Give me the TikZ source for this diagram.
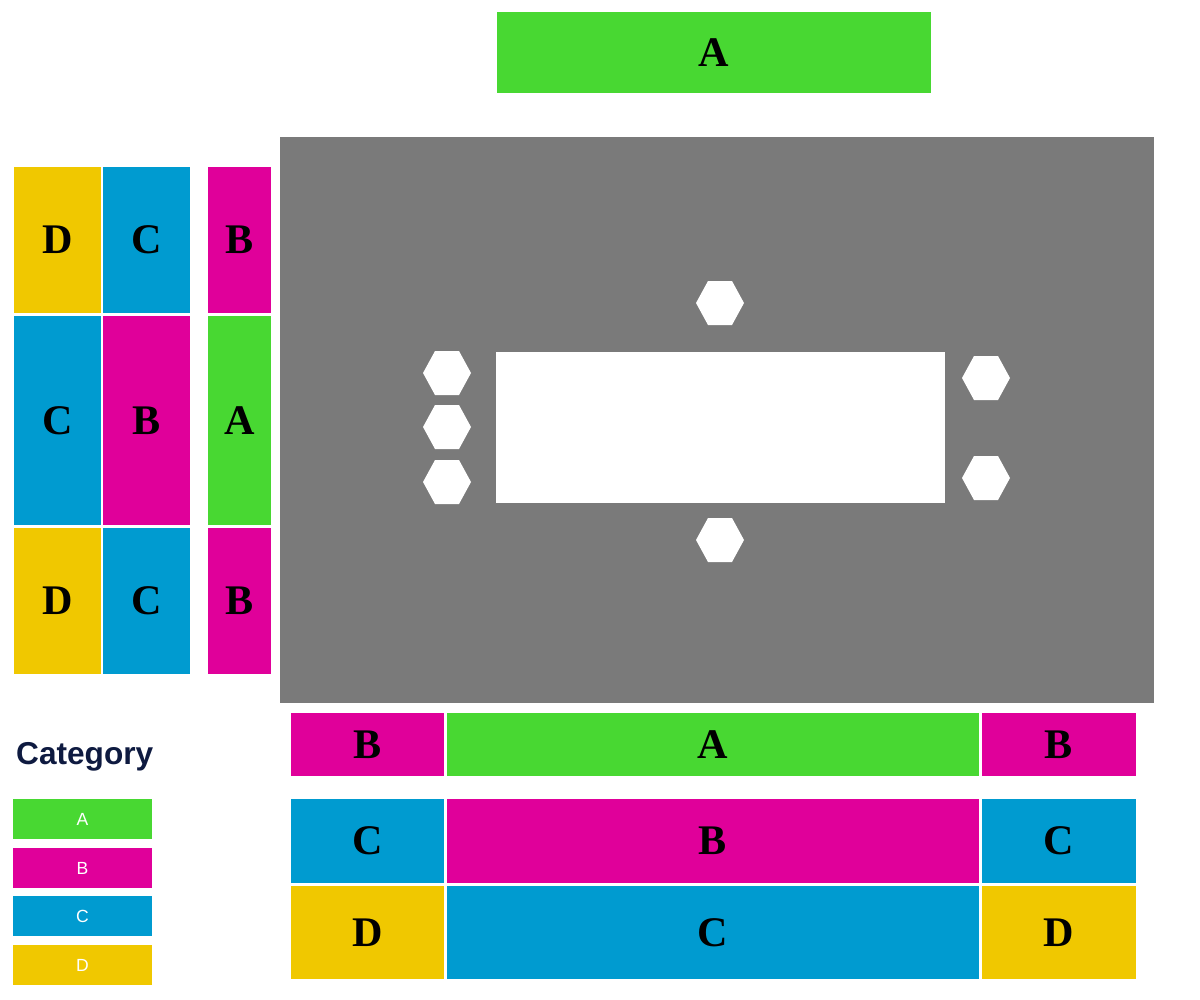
\documentclass[tikz,border=0pt]{standalone}
\usepackage{fontspec}
\setmainfont{Liberation Serif}
\setsansfont{Liberation Sans}
\definecolor{catA}{HTML}{48D832}
\definecolor{catB}{HTML}{E0009A}
\definecolor{catC}{HTML}{009BD0}
\definecolor{catD}{HTML}{F0C800}
\definecolor{pitch}{HTML}{7A7A7A}
\definecolor{navy}{HTML}{0E1A40}
\tikzset{
  seat/.style={font=\fontsize{24}{24}\selectfont\bfseries, text=black},
  key/.style={font=\sffamily\fontsize{10}{10}\selectfont, text=white},
}
\begin{document}
\begin{tikzpicture}[x=0.02cm, y=-0.02cm]
\useasboundingbox (0,0) rectangle (1200,1000);
% stands: x1/y1/x2/y2/category
\foreach \xa/\ya/\xb/\yb/\c in {
  497/12/931/93/A,
  14/167/101/313/D, 103/167/190/313/C, 208/167/271/313/B,
  14/316/101/525/C, 103/316/190/525/B, 208/316/271/525/A,
  14/528/101/674/D, 103/528/190/674/C, 208/528/271/674/B,
  291/713/444/776/B, 447/713/979/776/A, 982/713/1136/776/B,
  291/799/444/883/C, 447/799/979/883/B, 982/799/1136/883/C,
  291/886/444/979/D, 447/886/979/979/C, 982/886/1136/979/D}{
  \fill[cat\c] (\xa,\ya) rectangle (\xb,\yb);
  \node[seat] at ({(\xa+\xb)/2},{(\ya+\yb)/2}) {\c};
}
% pitch
\fill[pitch] (280,137) rectangle (1154,703);
\fill[white] (496,352) rectangle (945,503);
\foreach \hx/\hy in {720/303, 447/373, 447/427, 447/482, 986/378, 986/478, 720/540}
  \fill[white] (\hx-24,\hy) -- (\hx-12,\hy-22) -- (\hx+12,\hy-22) -- (\hx+24,\hy)
    -- (\hx+12,\hy+22) -- (\hx-12,\hy+22) -- cycle;
% legend
\node[anchor=west, text=navy, font=\sffamily\bfseries\fontsize{18}{18}\selectfont] (legend) at (10,757) {Category};
\foreach \ly/\c in {799/A, 848/B, 896/C, 945/D}{
  \fill[cat\c] (13,\ly) rectangle (152,\ly+40);
  \node[key] (key\c) at (82.5,\ly+20) {\c};
}
\end{tikzpicture}
\end{document}
